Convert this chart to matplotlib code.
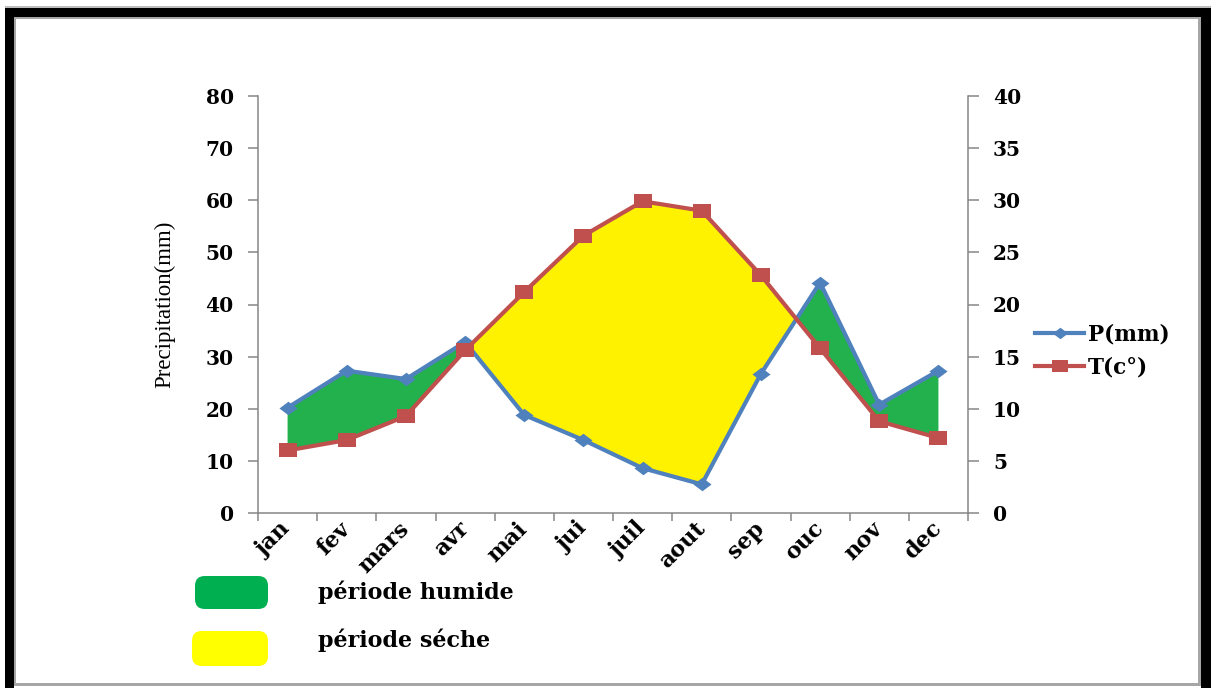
import numpy as np
import matplotlib
matplotlib.use("Agg")
import matplotlib.pyplot as plt
from matplotlib.patches import Rectangle, FancyBboxPatch
from matplotlib.path import Path

# Monthly climate data
months = ["jan", "fev", "mars", "avr", "mai", "jui", "juil", "aout", "sep", "ouc", "nov", "dec"]
precip_mm = [20.2, 27.3, 25.7, 32.8, 18.8, 14.0, 8.6, 5.5, 26.7, 44.2, 20.8, 27.3]
temp_c = [6.0, 7.0, 9.3, 15.6, 21.2, 26.6, 29.9, 29.0, 22.8, 15.8, 8.8, 7.2]

W, H = 1213, 688
fig = plt.figure(figsize=(W / 100, H / 100), dpi=100)
fig.patch.set_facecolor("white")


def frac_rect(x0, y0, x1, y1):
    """Pixel box (top-left origin) -> figure-fraction rectangle args."""
    return (x0 / W, 1 - y1 / H), (x1 - x0) / W, (y1 - y0) / H


# Picture frame: thin grey line, thick black band, inner grey edge
frame = [
    ((5, 6, 1211, 8), "#BDBDBD"),
    ((5, 8, 1211, 17), "black"),
    ((5, 8, 14, 688), "black"),
    ((1201, 8, 1211, 688), "black"),
    ((14, 17, 1201, 19), "#A6A6A6"),
    ((14, 17, 16, 686), "#A6A6A6"),
    ((1198, 17, 1201, 686), "#A6A6A6"),
    ((14, 683, 1201, 686), "#A6A6A6"),
]
for (x0, y0, x1, y1), c in frame:
    xy, w, h = frac_rect(x0, y0, x1, y1)
    fig.patches.append(Rectangle(xy, w, h, transform=fig.transFigure,
                                 facecolor=c, edgecolor="none", zorder=0))

bold_font = dict(family="DejaVu Serif", weight="bold")
axis_grey = "#868686"
blue = "#4F81BD"
red = "#C0504D"

ax = fig.add_axes([258 / W, 1 - 513 / H, 710 / W, 417 / H])
ax2 = ax.twinx()

x = np.arange(len(months))
P = np.array(precip_mm)
T = np.array(temp_c)
T_scaled = 2 * T  # temperature on the precipitation scale (P = 2T)

ax.fill_between(x, P, T_scaled, where=P >= T_scaled, interpolate=True,
                color="#22B14C", linewidth=0, zorder=1)
ax.fill_between(x, P, T_scaled, where=T_scaled >= P, interpolate=True,
                color="#FFF200", linewidth=0, zorder=1)

diamond = Path([(0, 0.75), (1, 0), (0, -0.75), (-1, 0), (0, 0.75)],
               [Path.MOVETO, Path.LINETO, Path.LINETO, Path.LINETO, Path.CLOSEPOLY])
square = Path([(-1, -0.78), (1, -0.78), (1, 0.78), (-1, 0.78), (-1, -0.78)],
              [Path.MOVETO, Path.LINETO, Path.LINETO, Path.LINETO, Path.CLOSEPOLY])

lineP, = ax.plot(x, P, color=blue, lw=3, marker=diamond, markersize=13,
                 markeredgewidth=0, zorder=3)
lineT, = ax2.plot(x, T, color=red, lw=3, marker=square, markersize=13.5,
                  markeredgewidth=0, zorder=3)

ax.set_xlim(-0.5, len(months) - 0.5)
ax.set_ylim(0, 80)
ax2.set_ylim(0, 40)

ax.set_yticks(np.arange(0, 81, 10))
ax2.set_yticks(np.arange(0, 41, 5))
ax.set_xticks(x)
ax.set_xticklabels(months, rotation=45, ha="right", va="center",
                   rotation_mode="anchor", fontdict=dict(size=16, **bold_font))
ax.set_xticks(np.arange(len(months) + 1) - 0.5, minor=True)

for a in (ax, ax2):
    for s in a.spines.values():
        s.set_color(axis_grey)
        s.set_linewidth(1.1)
    a.spines["top"].set_visible(False)
ax.spines["right"].set_visible(False)
ax2.spines["left"].set_visible(False)
ax2.spines["bottom"].set_visible(False)

ax.tick_params(axis="x", which="major", length=0, pad=9)
ax.tick_params(axis="x", which="minor", length=6, width=1.1, color=axis_grey, direction="out")
ax.tick_params(axis="y", length=7.5, width=1.1, color=axis_grey, pad=10)
ax2.tick_params(axis="y", length=8, width=1.1, color=axis_grey, pad=10)
for lab in ax.get_yticklabels() + ax2.get_yticklabels():
    lab.set_fontfamily("DejaVu Serif")
    lab.set_fontweight("bold")
    lab.set_fontsize(14.5)

ax.set_ylabel("Precipitation(mm)", family="Liberation Serif", size=16.5, labelpad=22)
ax.patch.set_visible(False)

fig.legend(handles=[lineP, lineT], labels=["P(mm)", "T(c°)"],
           loc="center left", bbox_to_anchor=(1024 / W, 1 - 351 / H),
           frameon=False, prop=dict(size=15.5, **bold_font), handlelength=2.3,
           handletextpad=0.15, labelspacing=0.55, markerscale=0.85, borderpad=0)

# Period key under the chart
keys = [((195, 576, 268, 609), "#00B050", "période humide", 592),
        ((192, 631, 268, 666), "#FFFF00", "période séche", 640)]
for (x0, y0, x1, y1), c, txt, ty in keys:
    xy, w, h = frac_rect(x0, y0, x1, y1)
    fig.patches.append(FancyBboxPatch(xy, w, h, boxstyle="round,pad=0,rounding_size=0.008",
                                      transform=fig.transFigure, facecolor=c,
                                      edgecolor="none", mutation_aspect=W / H))
    fig.text(318 / W, 1 - ty / H, txt, ha="left", va="center", size=16, **bold_font)

fig.savefig("out.png", dpi=100)
